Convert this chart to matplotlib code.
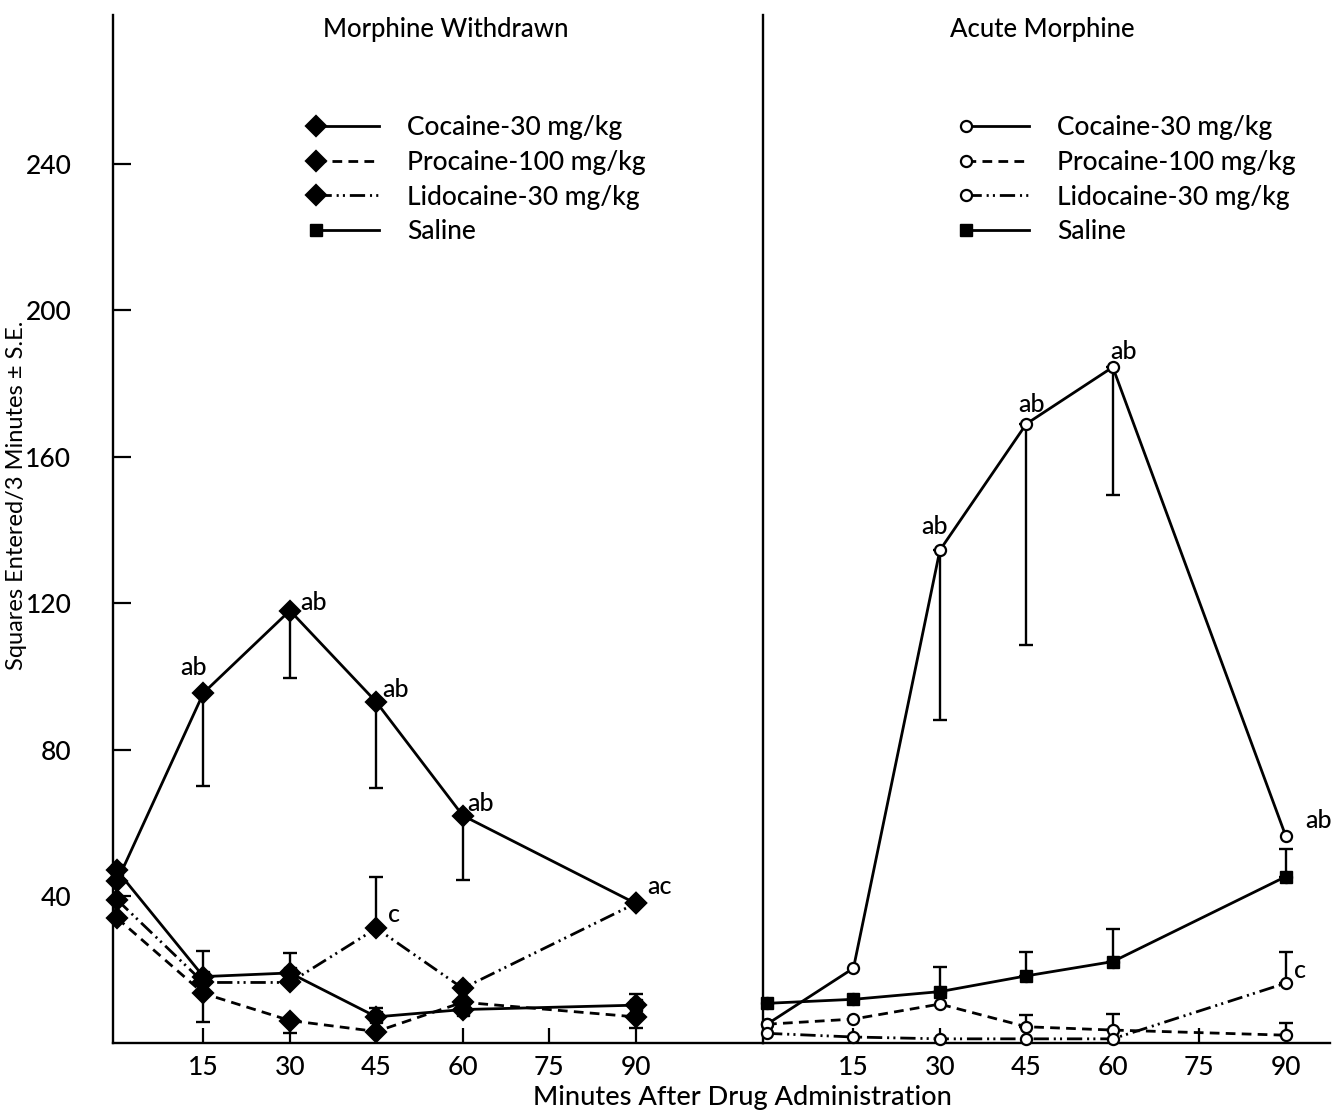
import numpy as np
import matplotlib
matplotlib.use("Agg")
import matplotlib.pyplot as plt
from matplotlib.lines import Line2D
from matplotlib.legend_handler import HandlerLine2D

plt.rcParams["font.family"] = ["Lato", "DejaVu Sans"]
plt.rcParams["font.weight"] = "medium"
plt.rcParams["lines.scale_dashes"] = False

nan = np.nan

# --- datos ---
minutes = [0, 15, 30, 45, 60, 90]
xticks = [15, 30, 45, 60, 75, 90]
yticks = [40, 80, 120, 160, 200, 240]

# Morphine Withdrawn
wd_cocaine = [44, 95.5, 118, 93, 62, 38]
wd_cocaine_se = [nan, 25.5, 18.5, 23.5, 17.6, nan]      # hacia abajo
wd_procaine = [34, 13.4, 6, 3, 11, 7]
wd_procaine_se = [nan, 7.7, 3.4, nan, nan, 3]          # hacia abajo
wd_lidocaine = [39, 16.4, 16.4, 31.2, 14.8, 38]
wd_lidocaine_se = [nan, nan, nan, 14, nan, nan]        # hacia arriba
wd_saline = [47, 18, 19, 7, 9, 10.2]
wd_saline_se = [nan, 7, 5.5, 2.3, nan, 3]              # hacia arriba
wd_marks = [("ab", 1, wd_cocaine), ("ab", 2, wd_cocaine), ("ab", 3, wd_cocaine),
            ("ab", 4, wd_cocaine), ("ac", 5, wd_cocaine), ("c", 3, wd_lidocaine)]
wd_offsets = [(-7, 18), (17, 6), (14, 9), (13, 9), (17, 12), (13, 10)]

# Acute Morphine
ac_cocaine = [5, 20.3, 134.5, 169, 184.5, 56.5]
ac_cocaine_se = [nan, nan, 46.5, 60.5, 35, nan]        # hacia abajo
ac_procaine = [5, 6.4, 10.5, 4.3, 3.4, 2]
ac_procaine_se = [nan, nan, nan, 3.2, 4.4, 3.4]        # hacia arriba
ac_lidocaine = [2.5, 1.5, 1, 1, 1, 16.2]
ac_lidocaine_se = [nan, nan, nan, nan, nan, 8.6]       # hacia arriba
ac_saline = [10.7, 11.8, 13.9, 18.2, 22.1, 45.3]
ac_saline_se = [nan, nan, 6.8, 6.6, 8.8, 7.5]          # hacia arriba
ac_marks = [("ab", 2, ac_cocaine), ("ab", 3, ac_cocaine), ("ab", 4, ac_cocaine),
            ("ab", 5, ac_cocaine), ("c", 5, ac_lidocaine)]
ac_offsets = [(-4, 17), (4, 14), (8, 11), (24, 11), (10, 9)]

labels = ["Cocaine-30 mg/kg", "Procaine-100 mg/kg", "Lidocaine-30 mg/kg", "Saline"]

LW = 2.0
DASHED = (0, (7, 4.5))
DASHDOT = (0, (11, 3.5, 1.5, 3, 1.5, 3.5))


class LeftMarkerHandler(HandlerLine2D):
    """Leyenda con el marcador solo en el extremo izquierdo de la línea."""

    def create_artists(self, legend, orig_handle, xdescent, ydescent, width,
                       height, fontsize, trans):
        artists = super().create_artists(legend, orig_handle, xdescent, ydescent,
                                         width, height, fontsize, trans)
        for a in artists:
            if a.get_marker() not in (None, "None", ""):
                a.set_markevery([0])
        return artists


def serie(ax, y, se, ls, marker, ms, face, down):
    y = np.asarray(y, dtype=float)
    se = np.asarray(se, dtype=float)
    err = [se, np.zeros_like(se)] if down else [np.zeros_like(se), se]
    mask = ~np.isnan(se)
    x = np.asarray(minutes, dtype=float)
    if mask.any():
        ax.errorbar(x[mask], y[mask], yerr=[e[mask] for e in err], fmt="none",
                    ecolor="black", elinewidth=1.7, capsize=5, capthick=1.7,
                    zorder=2)
    ax.plot(x, y, color="black", lw=LW, linestyle=ls, marker=marker,
            markersize=ms, markerfacecolor=face, markeredgecolor="black",
            markeredgewidth=1.6, zorder=3, clip_on=False)


def panel(ax, data, marker, ms, face, marks, offsets, title, xmax, xtitle):
    ax.set_xlim(-0.7, xmax)
    ax.set_ylim(0, 280.7)
    for y, se, ls, down in data:
        serie(ax, y, se, ls, marker, ms, face, down)
    for (txt, i, arr), off in zip(marks, offsets):
        ax.annotate(txt, (minutes[i], arr[i]), xytext=off,
                    textcoords="offset points", ha="center", va="center",
                    fontsize=18)
    ax.spines["top"].set_visible(False)
    ax.spines["right"].set_visible(False)
    for s in ("left", "bottom"):
        ax.spines[s].set_linewidth(1.7)
    ax.set_xticks(xticks)
    ax.tick_params(axis="x", direction="in", length=11, width=1.6,
                   labelsize=19, pad=9)
    ax.text(xtitle, 0.986, title, transform=ax.transAxes, ha="center",
            va="center", fontsize=18.5)


fig = plt.figure(figsize=(13.35, 11.13), dpi=100)
W, H = 1335.0, 1113.0
ax1 = fig.add_axes([113 / W, 1 - 1042.5 / H, 650 / W, 1027.5 / H])
ax2 = fig.add_axes([763 / W, 1 - 1042.5 / H, 567 / W, 1027.5 / H])

panel(ax1, [(wd_cocaine, wd_cocaine_se, "-", True),
            (wd_procaine, wd_procaine_se, DASHED, True),
            (wd_lidocaine, wd_lidocaine_se, DASHDOT, False),
            (wd_saline, wd_saline_se, "-", False)],
      "D", 10, "black", wd_marks, wd_offsets, "Morphine Withdrawn", 112.1, 0.512)
# cuadrado relleno para la solución salina (se redibuja encima)
ax1.plot(minutes, wd_saline, linestyle="none", marker="s", markersize=9,
         color="black", zorder=4, clip_on=False)

panel(ax2, [(ac_cocaine, ac_cocaine_se, "-", True),
            (ac_procaine, ac_procaine_se, DASHED, False),
            (ac_lidocaine, ac_lidocaine_se, DASHDOT, False),
            (ac_saline, ac_saline_se, "-", False)],
      "o", 8, "white", ac_marks, ac_offsets, "Acute Morphine", 97.7, 0.492)
ax2.plot(minutes, ac_saline, linestyle="none", marker="s", markersize=9,
         color="black", zorder=4, clip_on=False)

ax1.set_yticks(yticks)
ax1.tick_params(axis="y", direction="in", length=13, width=1.6,
                labelsize=19, pad=30)
ax2.set_yticks([])

ax1.set_ylabel("Squares Entered/3 Minutes ± S.E.", fontsize=17)
ax1.yaxis.set_label_coords(-0.132, 0.533)
fig.text(742 / W, 1 - 1098 / H, "Minutes After Drug Administration",
         ha="center", va="center", fontsize=19.5)

# leyendas
for ax, marker, ms, face, x0 in ((ax1, "D", 10, "black", 295),
                                 (ax2, "o", 8, "white", 945)):
    handles = []
    for ls in ("-", DASHED, DASHDOT):
        handles.append(Line2D([], [], color="black", lw=LW, linestyle=ls,
                              marker=marker, markersize=ms,
                              markerfacecolor=face, markeredgecolor="black",
                              markeredgewidth=1.6))
    handles.append(Line2D([], [], color="black", lw=LW, linestyle="-",
                          marker="s", markersize=9, markerfacecolor="black",
                          markeredgecolor="black"))
    fig.legend(handles, labels, loc="upper left",
               bbox_to_anchor=(x0 / W, 1 - 102 / H), frameon=False,
               fontsize=19, handlelength=3.0, handletextpad=0.75,
               labelspacing=0.37, borderpad=0, numpoints=2,
               handler_map={Line2D: LeftMarkerHandler(numpoints=2)})

fig.savefig("out.png", dpi=100)
